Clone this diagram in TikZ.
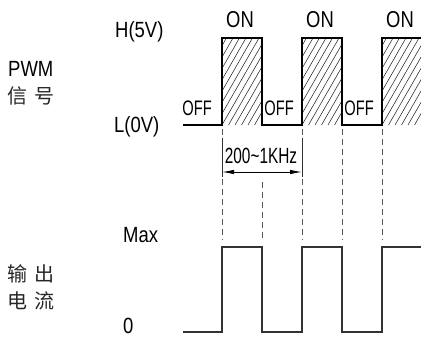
\documentclass[tikz,border=0pt]{standalone}
\usepackage{fontspec}
\setmainfont{Liberation Sans}
\newfontfamily\narrow[FakeStretch=0.84]{Liberation Sans}
\newfontfamily\onfont[FakeStretch=0.8]{Liberation Sans}
\newfontfamily\condfont[FakeStretch=0.7]{Liberation Sans}
\newfontfamily\cjk{Noto Sans CJK SC}
\usetikzlibrary{arrows.meta}
\begin{document}
\begin{tikzpicture}[x=1pt,y=-1pt,
  wave/.style={line width=1.3pt, line join=miter, black},
  outwave/.style={line width=1.2pt, line join=miter, black!80},
  guide/.style={line width=0.8pt, black!65, dash pattern=on 6pt off 4pt},
  hatchline/.style={line width=0.55pt, black!85},
  lab/.style={inner sep=0pt, font=\narrow\fontsize{22}{24}\selectfont},
  onlab/.style={inner sep=0pt, font=\onfont\fontsize{23}{25}\selectfont},
  offlab/.style={inner sep=0pt, font=\condfont\fontsize{21}{23}\selectfont},
  dimlab/.style={inner sep=0pt, font=\condfont\fontsize{22}{24}\selectfont},
  cjklab/.style={inner sep=0pt, font=\cjk\fontsize{20}{22}\selectfont, black!85},
  dimarrow/.style={line width=0.9pt, {Latex[length=12pt,width=4.5pt]}-{Latex[length=12pt,width=4.5pt]}}
]
\useasboundingbox (0,0) rectangle (421,338);

% hatching of the ON pulses
\foreach \p in {222,302,382}{
  \begin{scope}
    \clip (\p,38) rectangle (\p+40,125);
    \foreach \k in {-9,...,7}
      \draw[hatchline] (\p+\k*6.5,125) -- ++(50,-87);
  \end{scope}
}

% PWM waveform
\draw[wave] (183,125) coordinate (p0) -- (222,125) -- (222,38) -- (262,38) -- (262,125)
  -- (302,125) -- (302,38) -- (342,38) -- (342,125) -- (382,125) -- (382,38) -- (421,38) coordinate (p1);

% output current waveform
\draw[outwave] (183,332) coordinate (o0) -- (222,332) -- (222,247) -- (262,247) -- (262,332)
  -- (302,332) -- (302,247) -- (342,247) -- (342,332) -- (382,332) -- (382,247) -- (421,247) coordinate (o1);

% dashed guides
\coordinate (g1t) at (222,129); \coordinate (g1b) at (222,240);
\coordinate (g2t) at (262,182); \coordinate (g2b) at (262,240);
\coordinate (g3t) at (302,129); \coordinate (g3b) at (302,240);
\coordinate (g4t) at (342,129); \coordinate (g4b) at (342,240);
\coordinate (g5t) at (382,129); \coordinate (g5b) at (382,240);
\foreach \i in {1,...,5} \draw[guide] (g\i t) -- (g\i b);

% dimension
\coordinate (e1t) at (222,138); \coordinate (e1b) at (222,177);
\coordinate (e2t) at (302,138); \coordinate (e2b) at (302,177);
\draw[line width=0.8pt, black!80] (e1t) -- (e1b);
\draw[line width=0.8pt, black!80] (e2t) -- (e2b);
\coordinate (d1) at (222,172); \coordinate (d2) at (302,172);
\draw[dimarrow] (d1) -- (d2);
\node[dimlab, anchor=base] (freq) at (261,163) {200\char"7E 1KHz};

% ON / OFF labels
\node[onlab, anchor=base] (on1) at (240,27) {ON};
\node[onlab, anchor=base] (on2) at (320,27) {ON};
\node[onlab, anchor=base] (on3) at (400,27) {ON};
\node[offlab, anchor=base east] (off1) at (212,115) {OFF};
\node[offlab, anchor=base east] (off2) at (294,115) {OFF};
\node[offlab, anchor=base east] (off3) at (374,115) {OFF};

% axis labels
\node[lab, anchor=base west] (hv) at (115,37) {H(5V)};
\node[lab, anchor=base west] (lv) at (114,132) {L(0V)};
\node[lab, anchor=base west] (max) at (123,242) {Max};
\node[lab, anchor=base west] (zero) at (123,333) {0};

% left titles
\node[lab, anchor=base west] (pwm) at (8,76) {PWM};
\node[cjklab, anchor=base west] (sig) at (7,103) {信\hspace{7pt}号};
\node[cjklab, anchor=base west] (out) at (7,281) {输\hspace{7pt}出};
\node[cjklab, anchor=base west] (cur) at (7,308) {电\hspace{7pt}流};
\end{tikzpicture}
\end{document}
